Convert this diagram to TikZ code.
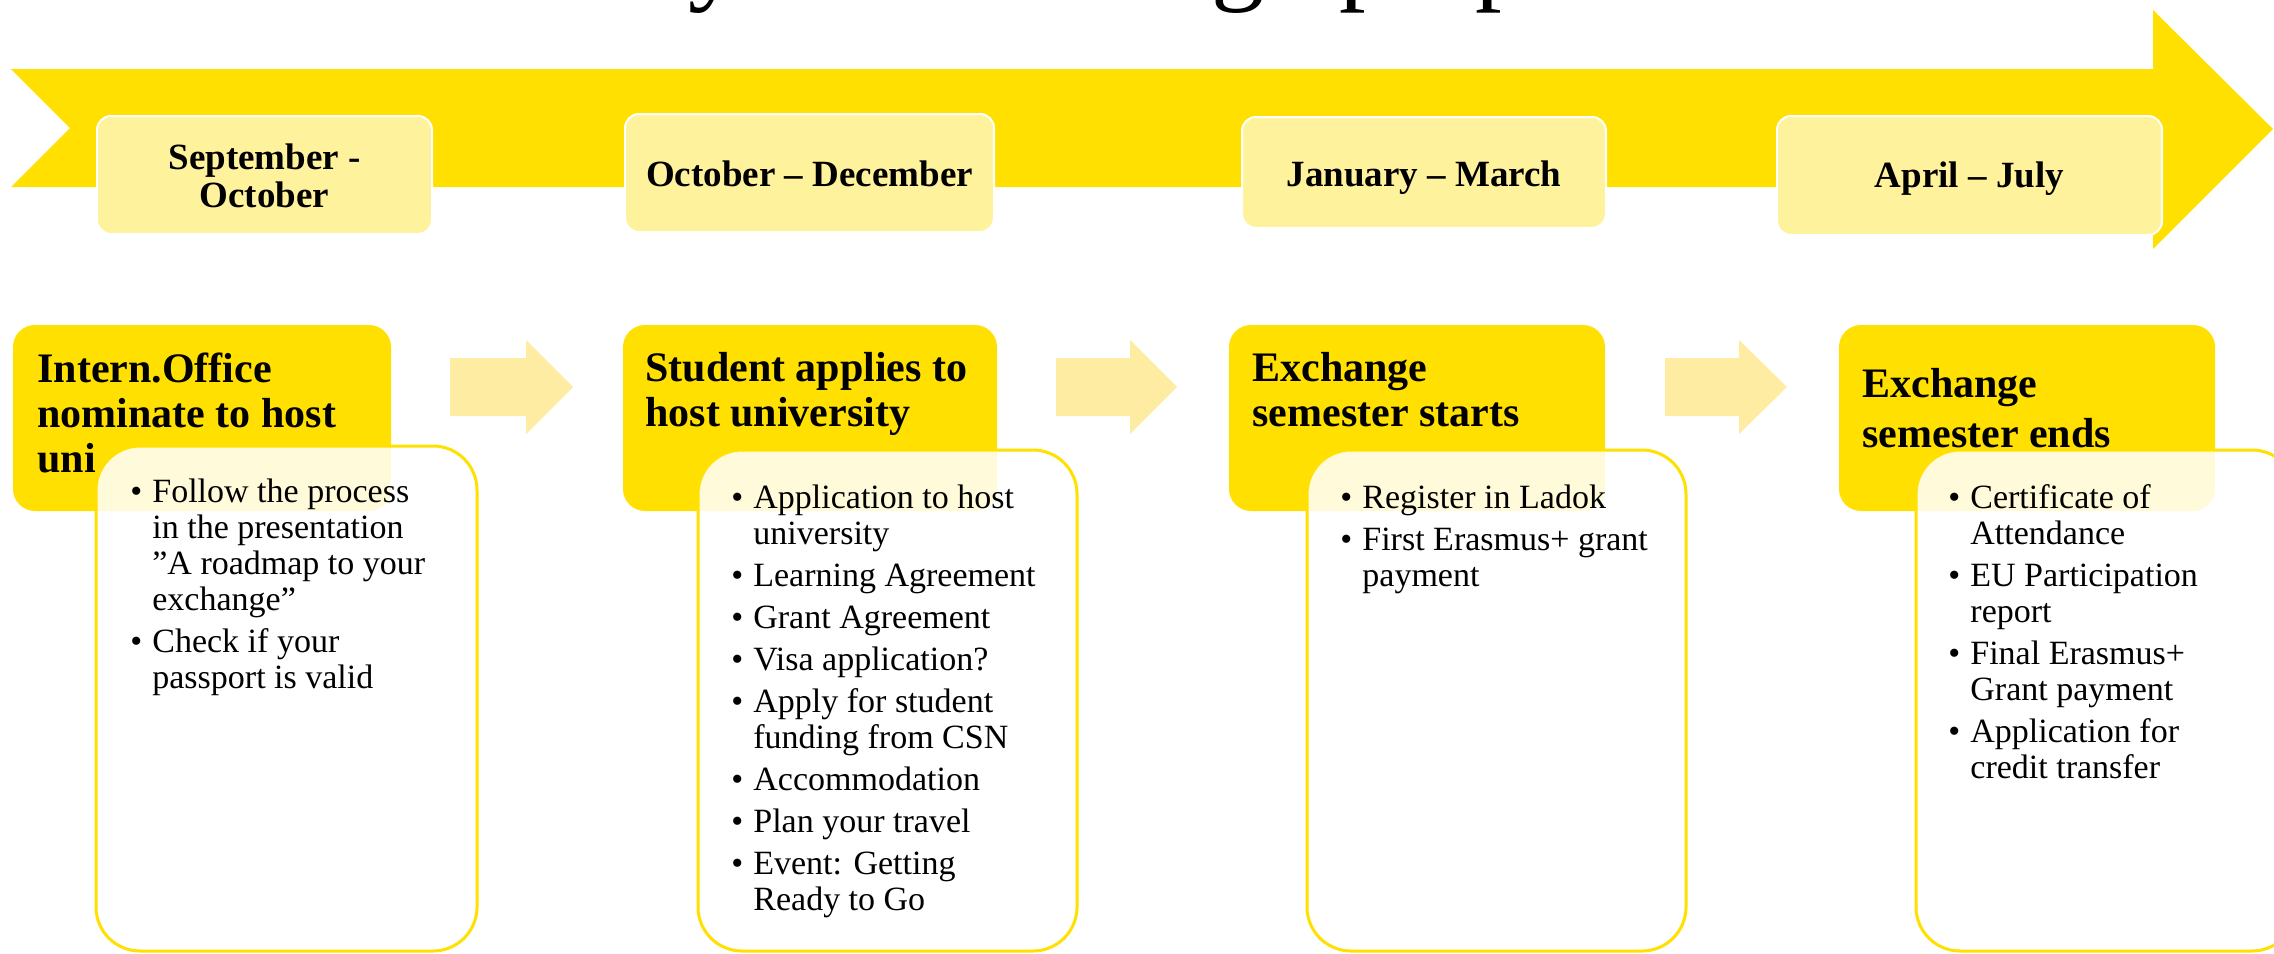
\documentclass[tikz,border=0pt]{standalone}
\usepackage{fontspec}
\setmainfont{Liberation Serif}
\usetikzlibrary{fit}
\definecolor{mainyellow}{RGB}{255,224,0}
\definecolor{datefill}{RGB}{255,242,156}
\definecolor{arrowfill}{RGB}{255,236,163}
\newcommand{\bmark}{\makebox[9.5pt][l]{\hspace{-1.5pt}•}}
\begin{document}
\begin{tikzpicture}[x=0.5pt,y=-0.5pt,
  headbox/.style={fill=mainyellow, rounded corners=11pt, inner sep=0pt},
  datebox/.style={fill=datefill, draw=white, line width=1pt, rounded corners=7pt, inner sep=0pt},
  notebox/.style={fill=white, fill opacity=0.85, draw=mainyellow, line width=1.5pt, rounded corners=22pt, inner sep=0pt},
  headtext/.style={font=\fontsize{21}{22.5}\selectfont\bfseries, inner sep=0pt, anchor=base west},
  datetext/.style={font=\fontsize{18.5}{19}\selectfont\bfseries, inner sep=0pt, anchor=base},
  bullettext/.style={font=\fontsize{17}{18}\selectfont, inner sep=0pt, anchor=base west},
  blockarrow/.style={fill=arrowfill},
  bigarrow/.style={fill=mainyellow}]
\useasboundingbox (0,0) rectangle (2274,953);
\clip (0,0) rectangle (2274,953);

% title (cut off at the top)
\node[font=\fontsize{53.25}{60}\selectfont, inner sep=0pt, anchor=base west] (title) at (688,-9.5) {your exchange preparation};

% main timeline arrow
\fill[bigarrow] (11,69) -- (2153,69) -- (2153,10) -- (2273,129) -- (2153,249) -- (2153,187) -- (11,187) -- (70,128) -- cycle;

% date boxes
\node[datebox, fit={(97,116)(432,234)}] (d1) {};
\node[datebox, fit={(625,114)(994,232)}] (d2) {};
\node[datebox, fit={(1242,117)(1606,228)}] (d3) {};
\node[datebox, fit={(1777,116)(2162,235)}] (d4) {};
\node[datetext] (dt1) at (264.5,169) {\begin{tabular}[t]{@{}c@{}}September -\\October\end{tabular}};
\node[datetext] (dt2) at (809.5,186) {October – December};
\node[datetext] (dt3) at (1424,186) {January – March};
\node[datetext] (dt4) at (1969.5,187) {April – July};

% small block arrows
\fill[blockarrow] (450,358) -- (526,358) -- (526,340) -- (573,387) -- (526,434) -- (526,416) -- (450,416) -- cycle;
\fill[blockarrow] (1056,358) -- (1130,358) -- (1130,340) -- (1177,387) -- (1130,434) -- (1130,416) -- (1056,416) -- cycle;
\fill[blockarrow] (1665,358) -- (1739,358) -- (1739,340) -- (1787,387) -- (1739,434) -- (1739,416) -- (1665,416) -- cycle;

% heading boxes
\node[headbox, fit={(13,325)(391,511)}] (h1) {};
\node[headbox, fit={(623,325)(997,511)}] (h2) {};
\node[headbox, fit={(1229,325)(1605,511)}] (h3) {};
\node[headbox, fit={(1839,325)(2215,511)}] (h4) {};
\node[headtext] (ht1) at (37,382) {\begin{tabular}[t]{@{}l@{}}Intern.Office\\nominate to host\\uni\end{tabular}};
\node[headtext] (ht2) at (645,381) {\begin{tabular}[t]{@{}l@{}}Student applies to\\host university\end{tabular}};
\node[headtext] (ht3) at (1252,381) {\begin{tabular}[t]{@{}l@{}}Exchange\\semester starts\end{tabular}};
\node[headtext] (ht4) at (1862,397) {\begin{tabular}[t]{@{}l@{}}Exchange\\[2.5pt]semester ends\end{tabular}};

% note boxes
\node[notebox, fit={(96,446)(477,951)}] (w1) {};
\node[notebox, fit={(698,450)(1077,951)}] (w2) {};
\node[notebox, fit={(1307,450)(1686,951)}] (w3) {};
\node[notebox, fit={(1916,450)(2296,951)}] (w4) {};

\node[bullettext] (b1) at (133,502) {\begin{tabular}[t]{@{}l@{}l@{}}
\bmark & Follow the process\\
 & in the presentation\\
 & ”A roadmap to your\\
 & exchange”\\[3pt]
\bmark & Check if your\\
 & passport is valid
\end{tabular}};
\node[bullettext] (b2) at (734,508) {\begin{tabular}[t]{@{}l@{}l@{}}
\bmark & Application to host\\
 & university\\[3pt]
\bmark & Learning Agreement\\[3pt]
\bmark & Grant Agreement\\[3pt]
\bmark & Visa application?\\[3pt]
\bmark & Apply for student\\
 & funding from CSN\\[3pt]
\bmark & Accommodation\\[3pt]
\bmark & Plan your travel\\[3pt]
\bmark & Event: Getting\\
 & Ready to Go
\end{tabular}};
\node[bullettext] (b3) at (1343,508) {\begin{tabular}[t]{@{}l@{}l@{}}
\bmark & Register in Ladok\\[3pt]
\bmark & First Erasmus+ grant\\
 & payment
\end{tabular}};
\node[bullettext] (b4) at (1951,508) {\begin{tabular}[t]{@{}l@{}l@{}}
\bmark & Certificate of\\
 & Attendance\\[3pt]
\bmark & EU Participation\\
 & report\\[3pt]
\bmark & Final Erasmus+\\
 & Grant payment\\[3pt]
\bmark & Application for\\
 & credit transfer
\end{tabular}};
\end{tikzpicture}
\end{document}
